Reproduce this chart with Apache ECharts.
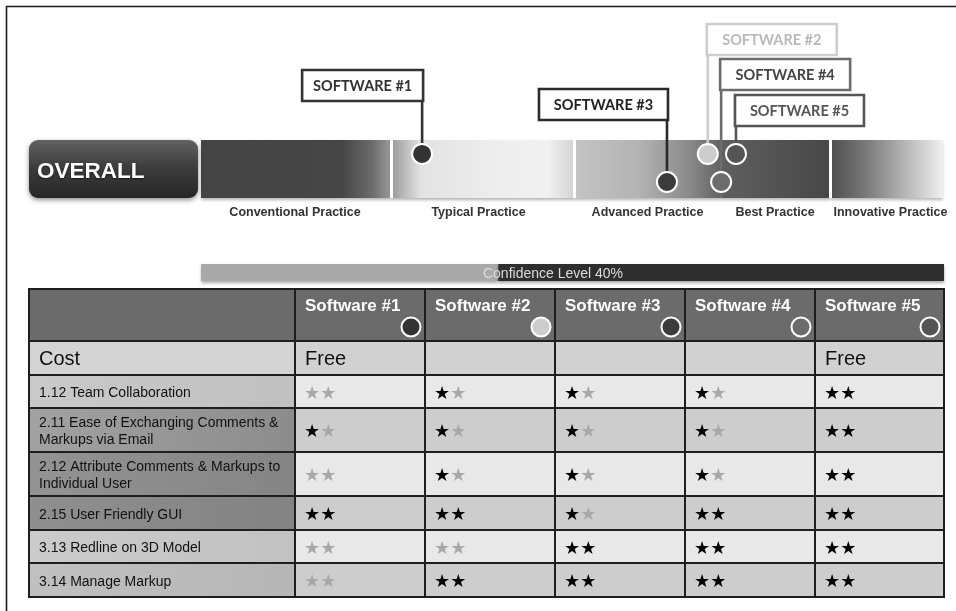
<!DOCTYPE html>
<html><head><meta charset="utf-8">
<script src="https://cdn.jsdelivr.net/npm/echarts@6/dist/echarts.min.js"></script>
<style>html,body{margin:0;padding:0;background:#fff}#chart{width:956px;height:611px}</style>
</head><body><div id="chart"></div>
<script>
// ---------------- data ----------------
const softwareNames = ['Software #1', 'Software #2', 'Software #3', 'Software #4', 'Software #5'];
const calloutNames = ['SOFTWARE #1', 'SOFTWARE #2', 'SOFTWARE #3', 'SOFTWARE #4', 'SOFTWARE #5'];
const overallScore = [29.8, 68.3, 62.8, 70.1, 72.1];
const practiceLevels = ['Conventional Practice', 'Typical Practice', 'Advanced Practice', 'Best Practice', 'Innovative Practice'];
const practiceLabelAt = [12.67, 37.4, 60.18, 77.36, 92.92];
const bandEdges = [0, 25.67, 50.34, 84.84, 100];
const confidenceLevel = 40;
const costLabel = 'Cost';
const costValues = ['Free', '', '', '', 'Free'];
const criteria = [
  '1.12 Team Collaboration',
  '2.11 Ease of Exchanging Comments &\nMarkups via Email',
  '2.12 Attribute Comments & Markups to\nIndividual User',
  '2.15 User Friendly GUI',
  '3.13 Redline on 3D Model',
  '3.14 Manage Markup'
];
const starsSw1 = [0, 1, 0, 2, 0, 0];
const starsSw2 = [1, 1, 1, 2, 0, 2];
const starsSw3 = [1, 1, 1, 1, 2, 2];
const starsSw4 = [1, 1, 1, 2, 2, 2];
const starsSw5 = [2, 2, 2, 2, 2, 2];
const maxStars = 2;

// ---------------- styles / layout ----------------
const FONT = "'Liberation Sans', Arial, sans-serif";
const swColors = ['#333333', '#cdcdcd', '#3b3b3b', '#6c6c6c', '#555555'];
const calloutStyle = [
  { lane: 0.759, side: 'left',  top: 70, w: 121, color: '#333333', text: '#333333' },
  { lane: 0.759, side: 'right', top: 24, w: 130, color: '#cdcdcd', text: '#b9b9b9' },
  { lane: 0.276, side: 'left',  top: 89, w: 129, color: '#2a2a2a', text: '#222222' },
  { lane: 0.276, side: 'right', top: 59, w: 130, color: '#6c6c6c', text: '#444444', stem: true },
  { lane: 0.759, side: 'right', top: 95, w: 129, color: '#555555', text: '#555555' }
];
const bandStops = [
  [[0, '#444'], [0.74, '#464646'], [0.9, '#6c6c6c'], [1, '#9c9c9c']],
  [[0, '#9a9a9a'], [0.16, '#e2e2e2'], [0.5, '#ececec'], [0.85, '#f1f1f1'], [1, '#d4d4d4']],
  [[0, '#c4c4c4'], [0.25, '#b3b3b3'], [0.45, '#8a8a8a'], [0.58, '#5f5f5f'], [0.75, '#555'], [1, '#474747']],
  [[0, '#4e4e4e'], [0.3, '#777'], [0.7, '#bcbcbc'], [1, '#f0f0f0']]
];
const colWidths = [266, 130, 130, 130, 130, 129];
const rowHeights = [52, 34, 33, 44, 44, 34, 33, 34];
const labelFills = ['#6b6b6b', '#d4d4d4', ['#c9c9c9', '#c0c0c0'], ['#a2a2a2', '#8c8c8c'], ['#939393', '#858585'], ['#8f8f8f', '#838383'], ['#cbcbcb', '#c2c2c2'], ['#c0c0c0', '#b6b6b6']];
const dataFills = ['#6b6b6b', '#d1d1d1', '#e8e8e8', '#cdcdcd', '#e8e8e8', '#cdcdcd', '#e8e8e8', '#cdcdcd'];

const colEdges = [0]; colWidths.forEach(w => colEdges.push(colEdges[colEdges.length - 1] + w));
const rowEdges = [0]; rowHeights.forEach(h => rowEdges.push(rowEdges[rowEdges.length - 1] + h));
const starTable = [starsSw1, starsSw2, starsSw3, starsSw4, starsSw5];

// build table cells
const cells = [];
for (let r = 0; r < rowHeights.length; r++) {
  for (let c = 0; c < colWidths.length; c++) {
    const cell = { value: [c, r] };
    if (r === 0) {
      cell.kind = c === 0 ? 'blank' : 'header';
      if (c > 0) cell.text = softwareNames[c - 1];
    } else if (r === 1) {
      cell.kind = 'cost';
      cell.text = c === 0 ? costLabel : costValues[c - 1];
    } else {
      if (c === 0) { cell.kind = 'label'; cell.text = criteria[r - 2]; }
      else { cell.kind = 'stars'; cell.n = starTable[c - 1][r - 2]; }
    }
    cells.push(cell);
  }
}

const chart = echarts.init(document.getElementById('chart'), null, { renderer: 'canvas' });

function nearestIndex(arr, v) {
  let bi = 0, bd = Infinity;
  arr.forEach((a, i) => { const d = Math.abs(a - v); if (d < bd) { bd = d; bi = i; } });
  return bd < 0.01 ? bi : -1;
}

const option = {
  animation: false,
  backgroundColor: '#ffffff',
  grid: [
    { left: 201, top: 140, width: 742, height: 58 },
    { left: 201, top: 264, width: 743, height: 17 },
    { left: 29, top: 289, width: 915, height: 308 }
  ],
  xAxis: [
    {
      gridIndex: 0, type: 'value', min: 0, max: 100,
      axisLine: { show: false }, axisTick: { show: false }, splitLine: { show: false },
      axisLabel: {
        customValues: practiceLabelAt,
        formatter: v => { const i = nearestIndex(practiceLabelAt, v); return i >= 0 ? practiceLevels[i] : ''; },
        fontFamily: FONT, fontWeight: 'bold', fontSize: 12.5, color: '#333', margin: 8
      }
    },
    { gridIndex: 1, type: 'value', min: 0, max: 100, show: false },
    { gridIndex: 2, type: 'value', min: 0, max: colEdges[colEdges.length - 1], show: false }
  ],
  yAxis: [
    { gridIndex: 0, type: 'value', min: 0, max: 1, show: false },
    { gridIndex: 1, type: 'category', data: ['Confidence'], show: false },
    { gridIndex: 2, type: 'value', min: 0, max: rowEdges[rowEdges.length - 1], inverse: true, show: false }
  ],
  graphic: [
    { type: 'line', shape: { x1: 6, y1: 6.5, x2: 956, y2: 6.5 }, style: { stroke: '#1a1a1a', lineWidth: 1.6 }, z: 10 },
    { type: 'line', shape: { x1: 6.5, y1: 6, x2: 6.5, y2: 611 }, style: { stroke: '#1a1a1a', lineWidth: 1.6 }, z: 10 },
    {
      type: 'rect', shape: { x: 29, y: 140, width: 169, height: 58, r: 9 }, z: 5,
      style: {
        fill: new echarts.graphic.LinearGradient(0, 0, 0, 1, [
          { offset: 0, color: '#626262' }, { offset: 0.45, color: '#3e3e3e' }, { offset: 1, color: '#262626' }
        ]),
        shadowBlur: 5, shadowOffsetY: 2, shadowColor: 'rgba(0,0,0,0.45)'
      }
    },
    {
      type: 'text', x: 37, y: 172, z: 6,
      style: { text: 'OVERALL', font: "bold 22.5px 'Liberation Sans', Arial, sans-serif", fill: '#ffffff', verticalAlign: 'middle', textShadowBlur: 2, textShadowColor: 'rgba(0,0,0,0.6)', textShadowOffsetY: 1 }
    },
    {
      type: 'text', x: 553, y: 274, z: 20,
      style: { text: 'Confidence Level ' + confidenceLevel + '%', font: "14px 'Liberation Sans', Arial, sans-serif", fill: '#dcdcdc', align: 'center', verticalAlign: 'middle' }
    }
  ],
  series: [
    // overall practice bands
    {
      type: 'custom', xAxisIndex: 0, yAxisIndex: 0, clip: false, z: 1,
      data: bandEdges.slice(0, -1).map((s, i) => [s, bandEdges[i + 1]]),
      renderItem: (params, api) => {
        const i = params.dataIndex;
        const a = api.coord([api.value(0), 1]);
        const b = api.coord([api.value(1), 0]);
        const children = [{
          type: 'rect', shape: { x: a[0], y: a[1], width: b[0] - a[0], height: b[1] - a[1] },
          style: {
            fill: new echarts.graphic.LinearGradient(0, 0, 1, 0, bandStops[i].map(s => ({ offset: s[0], color: s[1] }))),
            shadowBlur: 3, shadowOffsetY: 2, shadowColor: 'rgba(0,0,0,0.3)'
          }
        }];
        if (i > 0) children.push({ type: 'rect', shape: { x: a[0] - 1.5, y: a[1], width: 3, height: b[1] - a[1] }, style: { fill: '#ffffff' }, z2: 5 });
        return { type: 'group', children };
      }
    },
    // callout lines and boxes
    {
      type: 'custom', xAxisIndex: 0, yAxisIndex: 0, clip: false, z: 3,
      data: overallScore.map((s, i) => [s, calloutStyle[i].lane]),
      renderItem: (params, api) => {
        const i = params.dataIndex;
        const c = calloutStyle[i];
        const p = api.coord([api.value(0), api.value(1)]);
        const bottom = api.coord([api.value(0), 0])[1];
        const h = 31;
        const bx = c.side === 'left' ? p[0] - c.w + 1 : p[0] - 1;
        const children = [
          { type: 'line', shape: { x1: p[0], y1: p[1], x2: p[0], y2: c.top + h }, style: { stroke: c.color, lineWidth: 2.6 } },
          { type: 'rect', shape: { x: bx, y: c.top, width: c.w, height: h }, style: { fill: '#ffffff', stroke: c.color, lineWidth: 2.6 } },
          { type: 'text', x: bx + c.w / 2, y: c.top + h / 2 + 1, style: { text: calloutNames[i], font: "bold 14.5px Lato, 'Open Sans', sans-serif", fill: c.text, align: 'center', verticalAlign: 'middle' } }
        ];
        if (c.stem) children.push({ type: 'line', shape: { x1: p[0], y1: p[1], x2: p[0], y2: bottom }, style: { stroke: c.color, lineWidth: 2.6 } });
        return { type: 'group', children };
      }
    },
    // marker circles
    {
      type: 'scatter', xAxisIndex: 0, yAxisIndex: 0, z: 5, symbol: 'circle', symbolSize: 20,
      data: overallScore.map((s, i) => ({ value: [s, calloutStyle[i].lane], itemStyle: { color: swColors[i] } })),
      itemStyle: { borderColor: '#ffffff', borderWidth: 2, opacity: 1 },
      silent: true
    },
    // confidence bar
    {
      type: 'bar', xAxisIndex: 1, yAxisIndex: 1, stack: 'conf', barWidth: 17, data: [confidenceLevel],
      itemStyle: { color: '#a9a9a9', shadowBlur: 3, shadowOffsetY: 2, shadowColor: 'rgba(0,0,0,0.35)' }, silent: true
    },
    {
      type: 'bar', xAxisIndex: 1, yAxisIndex: 1, stack: 'conf', barWidth: 17, data: [100 - confidenceLevel],
      itemStyle: { color: '#2e2e2e', shadowBlur: 3, shadowOffsetY: 2, shadowColor: 'rgba(0,0,0,0.35)' }, silent: true
    },
    // table
    {
      type: 'custom', xAxisIndex: 2, yAxisIndex: 2, clip: false, z: 2,
      data: cells.map(c => c.value),
      renderItem: (params, api) => {
        const cell = cells[params.dataIndex];
        const c = api.value(0), r = api.value(1);
        const a = api.coord([colEdges[c], rowEdges[r]]);
        const b = api.coord([colEdges[c + 1], rowEdges[r + 1]]);
        const w = b[0] - a[0], h = b[1] - a[1];
        let fill;
        if (c === 0) {
          const f = labelFills[r];
          fill = Array.isArray(f) ? new echarts.graphic.LinearGradient(0, 0, 1, 0, [{ offset: 0, color: f[0] }, { offset: 1, color: f[1] }]) : f;
        } else fill = dataFills[r];
        const children = [{ type: 'rect', shape: { x: a[0], y: a[1], width: w, height: h }, style: { fill, stroke: '#1e1e1e', lineWidth: 2 } }];
        const tx = a[0] + 10, cy = a[1] + h / 2;
        if (cell.kind === 'header') {
          children.push({ type: 'text', x: tx, y: a[1] + 17, style: { text: cell.text, font: "bold 17px 'Liberation Sans', Arial, sans-serif", fill: '#ffffff', verticalAlign: 'middle' } });
          children.push({ type: 'circle', shape: { cx: b[0] - 14, cy: b[1] - 14, r: 9.5 }, style: { fill: swColors[c - 1], stroke: '#ffffff', lineWidth: 2 } });
        } else if (cell.kind === 'cost') {
          children.push({ type: 'text', x: tx, y: cy + 1.5, style: { text: cell.text, font: "20px 'Liberation Sans', Arial, sans-serif", fill: '#111111', verticalAlign: 'middle' } });
        } else if (cell.kind === 'label') {
          children.push({ type: 'text', x: tx, y: cy + 2, style: { text: cell.text, font: "14px 'Liberation Sans', Arial, sans-serif", fill: '#111111', verticalAlign: 'middle', lineHeight: 17 } });
        } else if (cell.kind === 'stars') {
          let t = '';
          for (let k = 0; k < maxStars; k++) t += k < cell.n ? '{f|★}' : '{e|★}';
          children.push({
            type: 'text', x: tx - 1, y: cy + 2.5,
            style: {
              text: t, verticalAlign: 'middle',
              rich: {
                f: { fill: '#000000', font: "18px 'DejaVu Sans', sans-serif" },
                e: { fill: '#a8a8a8', font: "18px 'DejaVu Sans', sans-serif" }
              }
            }
          });
        }
        return { type: 'group', children };
      }
    }
  ]
};
chart.setOption(option);
</script>
</body></html>
